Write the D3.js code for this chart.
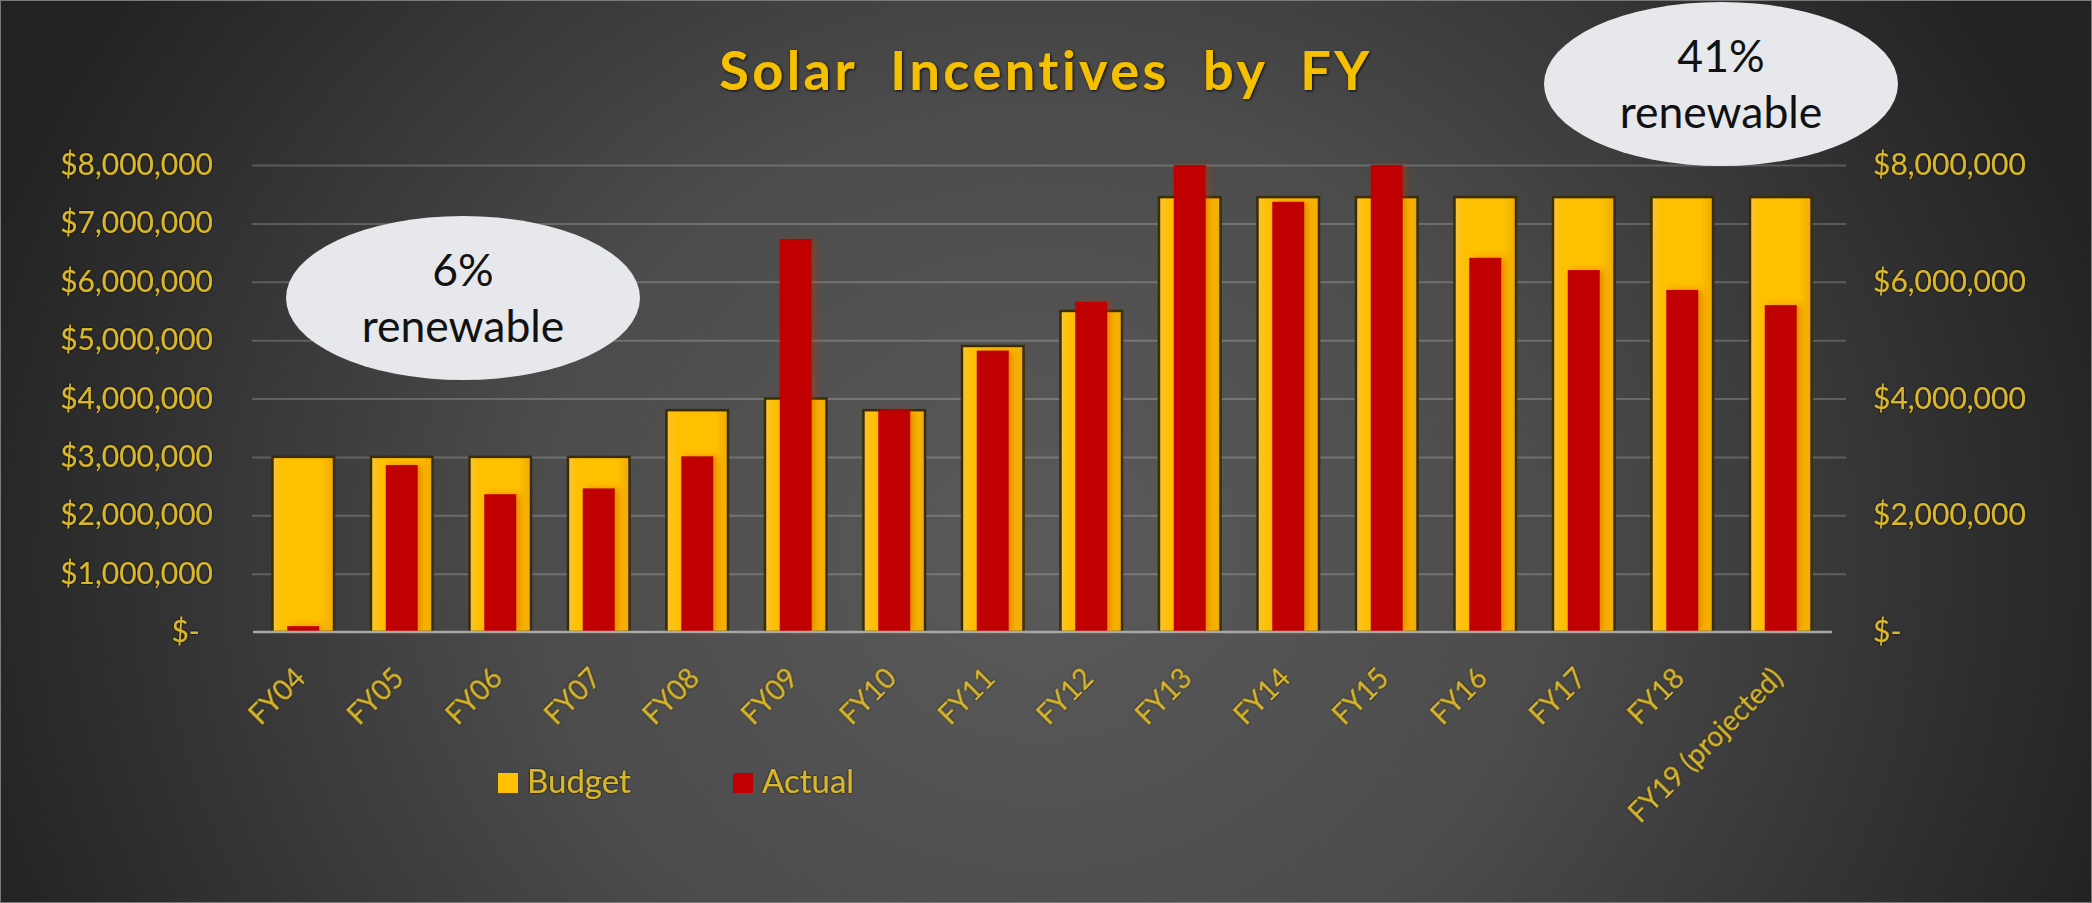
<!DOCTYPE html>
<html>
<head>
<meta charset="utf-8">
<script src="https://cdn.jsdelivr.net/npm/d3@7"></script>
<style>
  html, body { margin: 0; padding: 0; background: #2a2a2a; }
  svg { display: block; }
  text { font-family: Lato, "Open Sans", sans-serif; }
</style>
</head>
<body>
<div id="chart"></div>
<script>
// 数据
const categories = ["FY04", "FY05", "FY06", "FY07", "FY08", "FY09", "FY10", "FY11",
  "FY12", "FY13", "FY14", "FY15", "FY16", "FY17", "FY18", "FY19 (projected)"];
const budget = [3000000, 3000000, 3000000, 3000000, 3800000, 4000000, 3800000, 4900000,
  5500000, 7450000, 7450000, 7450000, 7450000, 7450000, 7450000, 7450000];
const actual = [100000, 2860000, 2360000, 2460000, 3010000, 6730000, 3800000, 4820000,
  5660000, 8000000, 7370000, 8000000, 6410000, 6200000, 5860000, 5600000];
const leftTicks = [0, 1000000, 2000000, 3000000, 4000000, 5000000, 6000000, 7000000, 8000000];
const rightTicks = [0, 2000000, 4000000, 6000000, 8000000];
const seriesNames = ["Budget", "Actual"];
const callouts = [["6%", "renewable"], ["41%", "renewable"]];
const title = "Solar  Incentives  by  FY";

const width = 2092;
const height = 903;
const gold = "#ffc000";
const red = "#c00000";
const labelColor = "#d9b62a";

const svg = d3.select("#chart")
  .append("svg")
  .attr("width", width)
  .attr("height", height);

const defs = svg.append("defs");

// 背景渐变
const bg = defs.append("radialGradient")
  .attr("id", "bg")
  .attr("gradientUnits", "userSpaceOnUse")
  .attr("cx", 1040).attr("cy", 560).attr("r", 1120)
  .attr("gradientTransform", "translate(1040,560) scale(1,0.9) translate(-1040,-560)");
bg.append("stop").attr("offset", "0").attr("stop-color", "#5a5a5a");
bg.append("stop").attr("offset", "0.45").attr("stop-color", "#4c4c4c");
bg.append("stop").attr("offset", "1").attr("stop-color", "#222222");

const barGrad = defs.append("linearGradient").attr("id", "budgetGrad");
barGrad.append("stop").attr("offset", "0").attr("stop-color", "#f7c43a");
barGrad.append("stop").attr("offset", "0.15").attr("stop-color", "#ffc000");
barGrad.append("stop").attr("offset", "0.8").attr("stop-color", "#ffc000");
barGrad.append("stop").attr("offset", "1").attr("stop-color", "#eeaa00");

const glow = defs.append("filter").attr("id", "glow")
  .attr("x", "-20%").attr("y", "-40%").attr("width", "140%").attr("height", "180%");
glow.append("feDropShadow")
  .attr("dx", 0).attr("dy", 0).attr("stdDeviation", 1.3)
  .attr("flood-color", "#000").attr("flood-opacity", 0.95);

const titleShadow = defs.append("filter").attr("id", "titleShadow")
  .attr("x", "-10%").attr("y", "-30%").attr("width", "120%").attr("height", "160%");
titleShadow.append("feDropShadow")
  .attr("dx", 1).attr("dy", 1).attr("stdDeviation", 1.8)
  .attr("flood-color", "#000").attr("flood-opacity", 0.9);

const barShadow = defs.append("filter").attr("id", "barShadow")
  .attr("x", "-30%").attr("y", "-10%").attr("width", "180%").attr("height", "120%");
barShadow.append("feDropShadow")
  .attr("dx", 4).attr("dy", 0).attr("stdDeviation", 3)
  .attr("flood-color", "#c03000").attr("flood-opacity", 0.4);

svg.append("rect")
  .attr("width", width).attr("height", height)
  .attr("fill", "url(#bg)")
  .attr("stroke", "#7a7a7a").attr("stroke-width", 2);

// 比例尺
const x = d3.scaleBand()
  .domain(categories)
  .range([254, 1830])
  .paddingInner(0.375)
  .paddingOuter(0.1875);

const y = d3.scaleLinear()
  .domain([0, 8000000])
  .range([632, 165]);

const fmt = d => d === 0 ? "$-" : "$" + d3.format(",")(d);

// 网格线
const grid = svg.append("g")
  .attr("transform", "translate(252,0)")
  .call(d3.axisRight(y).tickValues(leftTicks.filter(d => d > 0)).tickSize(1594).tickFormat(""));
grid.select(".domain").remove();
grid.selectAll("line")
  .attr("stroke", "#ffffff")
  .attr("stroke-opacity", 0.2)
  .attr("stroke-width", 2);

// 柱子
svg.append("g")
  .selectAll("rect")
  .data(categories)
  .join("rect")
  .attr("x", (d) => x(d))
  .attr("y", (d, i) => y(budget[i]))
  .attr("width", x.bandwidth())
  .attr("height", (d, i) => y(0) - y(budget[i]))
  .attr("fill", "url(#budgetGrad)")
  .attr("stroke", "#3a2d05")
  .attr("stroke-width", 2.5);

const actualWidth = 32;
svg.append("g")
  .attr("filter", "url(#barShadow)")
  .selectAll("rect")
  .data(categories)
  .join("rect")
  .attr("x", d => x(d) + (x.bandwidth() - actualWidth) / 2)
  .attr("y", (d, i) => y(actual[i]))
  .attr("width", actualWidth)
  .attr("height", (d, i) => y(0) - y(actual[i]))
  .attr("fill", red);

// 横轴线
svg.append("line")
  .attr("x1", 253).attr("x2", 1832)
  .attr("y1", y(0)).attr("y2", y(0))
  .attr("stroke", "#a8a8a8")
  .attr("stroke-width", 2.5);

// 左轴
const leftAxis = svg.append("g")
  .attr("transform", "translate(220,0)")
  .call(d3.axisLeft(y).tickValues(leftTicks).tickFormat(fmt).tickSize(0).tickPadding(7));
leftAxis.select(".domain").remove();
leftAxis.selectAll("text")
  .attr("fill", labelColor)
  .attr("font-size", 30)
  .attr("filter", "url(#glow)")
  .attr("x", d => d === 0 ? -20 : -7);

// 右轴
const rightAxis = svg.append("g")
  .attr("transform", "translate(1866,0)")
  .call(d3.axisRight(y).tickValues(rightTicks).tickFormat(fmt).tickSize(0).tickPadding(7));
rightAxis.select(".domain").remove();
rightAxis.selectAll("text")
  .attr("fill", labelColor)
  .attr("font-size", 30)
  .attr("filter", "url(#glow)");

svg.selectAll(".tick text").attr("font-family", "Lato, sans-serif");

// 横轴标签
const bottomAxis = svg.append("g")
  .attr("transform", `translate(0,${y(0)})`)
  .call(d3.axisBottom(x).tickSize(0));
bottomAxis.select(".domain").remove();
bottomAxis.selectAll("text")
  .attr("x", 0).attr("y", 0).attr("dy", 0)
  .attr("text-anchor", "end")
  .attr("transform", "translate(4,48) rotate(-45)")
  .attr("fill", labelColor)
  .attr("font-size", 28)
  .attr("font-family", "Lato, sans-serif")
  .attr("filter", "url(#glow)");

// 标题
svg.append("text")
  .attr("x", width / 2)
  .attr("y", 90)
  .attr("text-anchor", "middle")
  .attr("font-size", 54)
  .attr("font-weight", "bold")
  .attr("letter-spacing", 3.5)
  .style("white-space", "pre")
  .attr("fill", "#f5c000")
  .attr("filter", "url(#titleShadow)")
  .text(title);

// 图例
const legendX = [498, 733];
const legend = svg.append("g")
  .selectAll("g")
  .data(seriesNames)
  .join("g")
  .attr("transform", (d, i) => `translate(${legendX[i]},773)`);
legend.append("rect")
  .attr("width", 20).attr("height", 20)
  .attr("fill", (d, i) => i === 0 ? gold : red);
legend.append("text")
  .attr("x", 29).attr("y", 20)
  .attr("font-size", 33)
  .attr("fill", labelColor)
  .attr("filter", "url(#glow)")
  .text(d => d);

// 标注椭圆
const calloutPos = [{ cx: 463, cy: 298 }, { cx: 1721, cy: 84 }];
const callout = svg.append("g")
  .selectAll("g")
  .data(callouts)
  .join("g")
  .attr("transform", (d, i) => `translate(${calloutPos[i].cx},${calloutPos[i].cy})`);
callout.append("ellipse")
  .attr("rx", 177).attr("ry", 82)
  .attr("fill", "#e6e8eb");
callout.append("text")
  .attr("text-anchor", "middle")
  .attr("y", -12)
  .attr("font-size", 44.5)
  .attr("fill", "#111")
  .text(d => d[0]);
callout.append("text")
  .attr("text-anchor", "middle")
  .attr("y", 44)
  .attr("font-size", 44.5)
  .attr("fill", "#111")
  .text(d => d[1]);
</script>
</body>
</html>
